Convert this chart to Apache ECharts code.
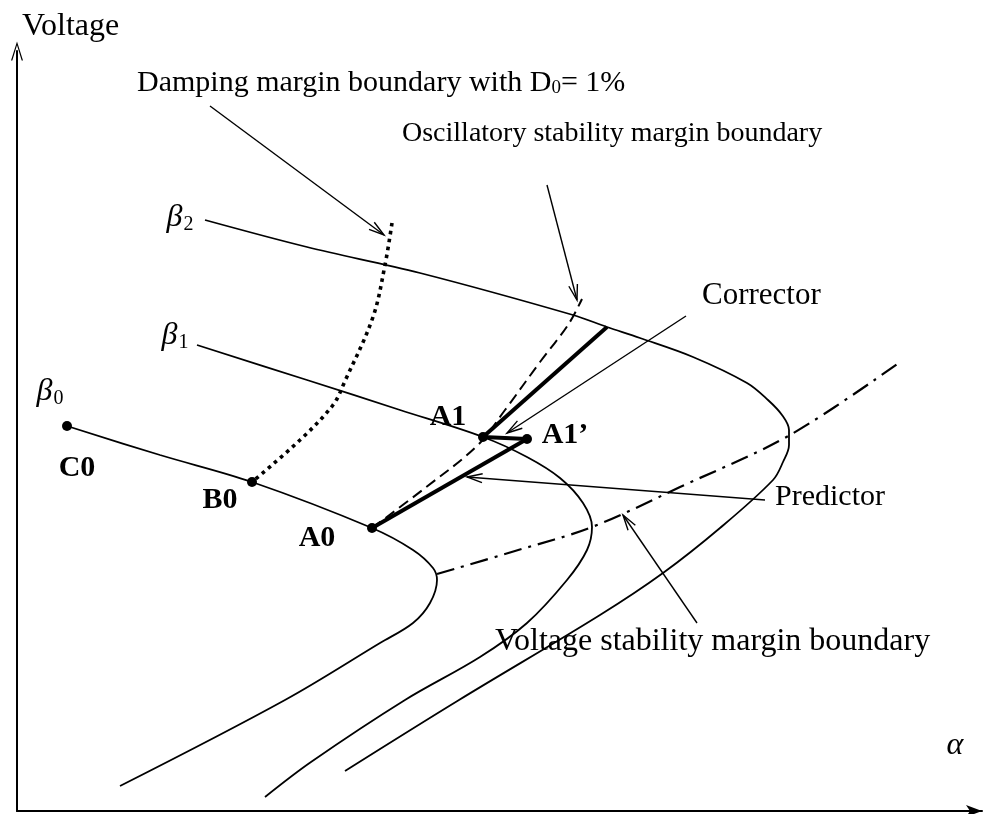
<!DOCTYPE html>
<html>
<head>
<meta charset="utf-8">
<script src="https://cdn.jsdelivr.net/npm/echarts@6/dist/echarts.min.js"></script>
<style>
  html, body { margin: 0; padding: 0; background: #fff; }
  #chart { width: 992px; height: 814px; }
</style>
</head>
<body>
<div id="chart"></div>
<script>
const SERIF = '"Liberation Serif", "Times New Roman", serif';

// PV curves (loading parameter alpha, voltage) for three directions beta0..beta2
const beta0Curve = [[5.0, 38.5], [14.3, 35.6], [23.5, 32.9], [35.5, 28.3], [39.6, 26.1], [41.6, 24.3],
  [42.0, 23.1], [41.3, 20.8], [39.6, 18.8], [36.3, 16.8], [26.8, 11.1], [10.3, 2.5]];
const beta1Curve = [[18.0, 46.6], [29.0, 43.1], [38.3, 40.1], [46.6, 37.4], [51.0, 35.4], [54.3, 33.3],
  [56.6, 30.8], [57.5, 28.4], [57.0, 26.1], [55.0, 23.1], [51.0, 18.8], [46.3, 15.4], [38.8, 11.1],
  [29.4, 4.9], [24.8, 1.4]];
const beta2Curve = [[18.8, 59.1], [29.0, 56.4], [40.3, 53.8], [55.6, 49.6], [59.0, 48.4], [62.3, 47.3],
  [67.6, 45.4], [73.0, 42.8], [75.1, 41.1], [76.5, 39.6], [77.2, 38.1], [77.2, 36.6], [76.6, 34.9],
  [75.6, 33.1], [70.3, 28.3], [64.6, 23.8], [58.3, 19.6], [44.2, 11.1], [32.8, 4.0]];

// Margin boundaries (damping boundary listed from its upper end down to B0)
const dampingBoundary = [[37.5, 58.8], [36.8, 54.6], [35.6, 49.4], [32.8, 43.0], [31.6, 40.6], [28.3, 37.1], [23.5, 32.9]];
const oscillatoryBoundary = [[35.5, 28.3], [40.8, 32.3], [46.1, 36.6], [48.8, 40.1], [52.3, 44.9], [55.1, 48.6], [56.5, 51.2]];
const voltageBoundary = [[42.0, 23.7], [49.8, 26.0], [57.5, 28.4], [66.3, 32.4], [77.3, 37.6], [88.3, 44.9]];

// Operating points and the predictor / corrector steps
const pointNames = ['C0', 'B0', 'A0', 'A1', 'A1\u2019'];
const pointAlpha = [5.0, 23.5, 35.5, 46.6, 51.0];
const pointVolt = [38.5, 32.9, 28.3, 37.4, 37.2];
const predictorStep = [[35.5, 28.3], [51.0, 37.2]];
const correctorStep = [[46.6, 37.4], [51.0, 37.2]];
const nextPredictorStep = [[46.6, 37.4], [59.0, 48.4]];

// Label anchors for the point names (alpha, voltage)
const pointLabelAnchors = [[6.0, 34.3], [20.3, 31.1], [30.0, 27.3], [43.1, 39.4], [54.8, 37.6]];

// Curve names
const betaSubscripts = ['0', '1', '2'];
const betaLabelAnchors = [[3.3, 41.9], [15.8, 47.5], [16.3, 59.3]];

// Callout texts with their left anchors, font sizes and arrows [fromAlpha, fromVolt, toAlpha, toVolt]
const calloutTexts = [
  'Damping margin boundary with D{sub|0}= 1%',
  'Oscillatory stability margin boundary',
  'Corrector',
  'Predictor',
  'Voltage stability margin boundary'
];
const calloutSizes = [30, 28, 31, 30, 32];
const calloutAnchors = [[12.0, 72.8], [38.5, 67.7], [68.5, 51.5], [75.8, 31.4], [47.8, 16.9]];
const calloutArrows = [
  [19.3, 70.5, 36.7, 57.6],
  [53.0, 62.6, 56.0, 51.1],
  [66.9, 49.5, 49.0, 37.8],
  [74.8, 31.1, 45.0, 33.4],
  [68.0, 18.8, 60.6, 29.6]
];
const alphaAnchor = [93.8, 6.5];

const chart = echarts.init(document.getElementById('chart'), null, { renderer: 'canvas' });

function curve(data, width, type) {
  return {
    type: 'line', data: data, smooth: 0.35, symbol: 'none', silent: true,
    lineStyle: { color: '#000', width: width, type: type || 'solid', cap: 'butt' },
    z: 2
  };
}

function renderArrow(params, api) {
  const a = api.coord([api.value(0), api.value(1)]);
  const b = api.coord([api.value(2), api.value(3)]);
  const ang = Math.atan2(b[1] - a[1], b[0] - a[0]);
  const len = 16, spread = 0.28;
  const h1 = [b[0] - len * Math.cos(ang - spread), b[1] - len * Math.sin(ang - spread)];
  const h2 = [b[0] - len * Math.cos(ang + spread), b[1] - len * Math.sin(ang + spread)];
  return {
    type: 'group',
    children: [
      { type: 'line', shape: { x1: a[0], y1: a[1], x2: b[0], y2: b[1] }, style: { stroke: '#000', lineWidth: 1.4 } },
      { type: 'polyline', shape: { points: [h1, b, h2] }, style: { stroke: '#000', lineWidth: 1.4, fill: null } }
    ]
  };
}

function textSeries(anchors, makeStyle) {
  return {
    type: 'custom', silent: true, clip: false, z: 5,
    data: anchors,
    encode: { x: 0, y: 1 },
    renderItem: function (params, api) {
      const p = api.coord([api.value(0), api.value(1)]);
      const style = Object.assign({ x: p[0], y: p[1], fill: '#000', verticalAlign: 'middle' }, makeStyle(params.dataIndex));
      return { type: 'text', style: style };
    }
  };
}

const option = {
  backgroundColor: '#fff',
  animation: false,
  grid: { left: 17, right: 10, top: 51, bottom: 3 },
  xAxis: {
    type: 'value', min: 0, max: 96.5,
    axisLine: { show: true, onZero: false, symbol: ['none', 'arrow'], symbolSize: [9, 16],
      lineStyle: { color: '#000', width: 2 } },
    axisTick: { show: false }, axisLabel: { show: false }, splitLine: { show: false }
  },
  yAxis: {
    type: 'value', min: 0, max: 76,
    name: 'Voltage', nameLocation: 'end', nameGap: 24,
    nameTextStyle: { fontFamily: SERIF, fontSize: 32, color: '#000', align: 'left', verticalAlign: 'middle', padding: [0, 0, 0, 5] },
    axisLine: { show: true, onZero: false,
      symbol: ['none', 'path://M5 0 L10 16 L8.9 16 L5 3.2 L1.1 16 L0 16 Z'], symbolSize: [12, 20],
      lineStyle: { color: '#000', width: 2 } },
    axisTick: { show: false }, axisLabel: { show: false }, splitLine: { show: false }
  },
  series: [
    curve(beta0Curve, 1.8),
    curve(beta1Curve, 1.8),
    curve(beta2Curve, 1.8),
    curve(dampingBoundary, 3.6, [3.6, 4.4]),
    curve(oscillatoryBoundary, 2, [11, 6]),
    curve(voltageBoundary, 2.2, [18, 7, 3, 7]),
    curve(predictorStep, 4),
    curve(correctorStep, 4),
    curve(nextPredictorStep, 4),
    {
      type: 'scatter', silent: true, z: 4,
      data: pointAlpha.map((a, i) => [a, pointVolt[i]]),
      symbol: 'circle', symbolSize: 10,
      itemStyle: { color: '#000', opacity: 1 }
    },
    {
      type: 'custom', silent: true, clip: false, z: 3,
      data: calloutArrows,
      encode: { x: [0, 2], y: [1, 3] },
      renderItem: renderArrow
    },
    textSeries(pointLabelAnchors, i => ({
      text: pointNames[i], align: 'center',
      font: 'bold 30px ' + SERIF
    })),
    textSeries(betaLabelAnchors, i => ({
      text: '{b|\u03B2}{s|' + betaSubscripts[i] + '}', align: 'center',
      font: 'italic 32px ' + SERIF,
      rich: {
        b: { fontSize: 32, fontStyle: 'italic', fontFamily: SERIF, fill: '#000' },
        s: { fontSize: 20, fontFamily: SERIF, fill: '#000', verticalAlign: 'bottom', padding: [14, 0, 0, 1] }
      }
    })),
    textSeries(calloutAnchors, i => ({
      text: calloutTexts[i], align: 'left',
      font: calloutSizes[i] + 'px ' + SERIF,
      rich: {
        sub: { fontSize: 19, fontFamily: SERIF, fill: '#000', verticalAlign: 'bottom', padding: [10, 0, 0, 0] }
      }
    })),
    textSeries([alphaAnchor], () => ({
      text: '\u03B1', align: 'center', font: 'italic 32px ' + SERIF
    }))
  ]
};

chart.setOption(option);
</script>
</body>
</html>
